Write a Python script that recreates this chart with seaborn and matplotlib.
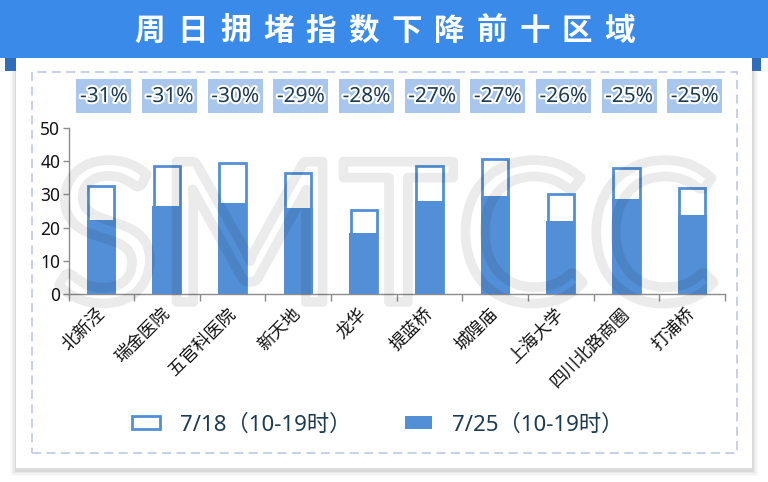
import numpy as np
import pandas as pd
import matplotlib
matplotlib.use("Agg")
import matplotlib.pyplot as plt
import seaborn as sns
from matplotlib.patches import Rectangle, Patch
from matplotlib.transforms import blended_transform_factory
from matplotlib.font_manager import FontProperties
import matplotlib.patheffects as pe

# ---------------- data ----------------
regions = ["北新泾", "瑞金医院", "五官科医院", "新天地", "龙华",
           "提蓝桥", "城隍庙", "上海大学", "四川北路商圈", "打浦桥"]
jul18 = [32.4, 38.4, 39.3, 36.3, 25.2, 38.4, 40.5, 30.0, 38.0, 31.8]
jul25 = [22.3, 26.5, 27.4, 25.9, 18.3, 28.0, 29.5, 22.0, 28.6, 23.8]
changes = ["-31%", "-31%", "-30%", "-29%", "-28%",
           "-27%", "-27%", "-26%", "-25%", "-25%"]
series_labels = ["7/18（10-19时）", "7/25（10-19时）"]
title = "周日拥堵指数下降前十区域"
yticks = [0, 10, 20, 30, 40, 50]
watermark = "SMTCC"

# ---------------- style ----------------
BLUE = "#538fd6"
TITLE_BLUE = "#3a8be9"
TAB_BLUE = "#2f6cb9"
NAVY = "#1c3a50"
MIX = ["Noto Sans", "Noto Sans CJK SC", "DejaVu Sans"]
plt.rcParams["font.family"] = MIX

W, H = 768, 482
fig = plt.figure(figsize=(W / 100, H / 100), dpi=100)
fig.patch.set_facecolor("white")


def fx(px):
    return px / W


def fy(py):
    return 1 - py / H


# card shadow
for d, a in [(6, 0.02), (4.5, 0.03), (3, 0.04), (1.5, 0.06)]:
    fig.add_artist(Rectangle((fx(16 - d), fy(470 + d)), (736 + 2 * d) / W, (412 + 2 * d) / H,
                             transform=fig.transFigure, fc="black", alpha=a, ec="none", zorder=-6))
# card
fig.add_artist(Rectangle((fx(16), fy(468)), 736 / W, 410 / H, transform=fig.transFigure,
                         fc="white", ec="none", zorder=-5))
# ribbon tabs
fig.add_artist(Rectangle((fx(5), fy(71)), 11 / W, 13 / H, transform=fig.transFigure,
                         fc=TAB_BLUE, ec="none", zorder=-4))
fig.add_artist(Rectangle((fx(752), fy(71)), 9 / W, 13 / H, transform=fig.transFigure,
                         fc=TAB_BLUE, ec="none", zorder=-4))
# title bar
fig.add_artist(Rectangle((0, fy(58)), 1, 58 / H, transform=fig.transFigure,
                         fc=TITLE_BLUE, ec="none", zorder=-3))
for i, ch in enumerate(title):
    fig.text(fx(150 + i * 42.7), fy(31), ch, ha="center", va="center", fontsize=22,
             color="white", fontweight="bold", family="Noto Sans CJK SC")
# dashed frame
fig.add_artist(Rectangle((fx(32), fy(453)), 705 / W, 381 / H, transform=fig.transFigure,
                         fill=False, ec="#c3cbed", lw=1.3, ls=(0, (5, 3)), zorder=-2))

# ---------------- axes ----------------
ax = fig.add_axes([fx(68.5), fy(294.3), (725 - 68.5) / W, (294.3 - 127.7) / H])
ax.set_facecolor("none")

df = pd.DataFrame({"region": regions, "jul18": jul18, "jul25": jul25})
sns.barplot(data=df, x="region", y="jul18", color="white", edgecolor=BLUE, linewidth=2.0,
            width=0.40, saturation=1, errorbar=None, ax=ax)
sns.barplot(data=df, x="region", y="jul25", color=BLUE, edgecolor="none", linewidth=0,
            width=0.442, saturation=1, errorbar=None, ax=ax)

ax.set_xlim(-0.5, len(regions) - 0.5)
ax.set_ylim(0, 50)
ax.set_yticks(yticks)
ax.set_xlabel("")
ax.set_ylabel("")
for s in ["top", "right"]:
    ax.spines[s].set_visible(False)
for s in ["left", "bottom"]:
    ax.spines[s].set_color("#8c8c8c")
    ax.spines[s].set_linewidth(1.0)

ax.set_xticks(range(len(regions)))
ax.set_xticklabels(regions, rotation=45, ha="right", va="center", rotation_mode="anchor",
                   family="Noto Sans CJK SC", fontsize=12.5, color="#111111")
ax.set_xticks(np.arange(-0.5, len(regions), 1), minor=True)
ax.tick_params(axis="x", which="major", length=0, pad=12)
ax.tick_params(axis="x", which="minor", length=5, color="#8c8c8c", width=1)
ax.tick_params(axis="y", length=4, color="#8c8c8c", width=1, labelsize=12.5,
               labelcolor="#111111", pad=2)

# percentage labels
trans = blended_transform_factory(ax.transData, fig.transFigure)
for i, lab in enumerate(changes):
    fig.add_artist(Rectangle((i - 0.38, fy(113)), 0.838, 34 / H, transform=trans,
                             fc="#a9c6ec", ec="none", zorder=1))
    fig.text(i + 0.04, fy(96.5), lab, transform=trans, ha="center", va="center",
             fontsize=15, color=NAVY, family="Noto Sans", zorder=2,
             path_effects=[pe.withStroke(linewidth=3, foreground="white")])

# watermark
fig.text(fx(385), fy(302), watermark, ha="center", va="baseline", fontsize=141,
         family="Lato", color=(1, 1, 1, 0), zorder=5,
         path_effects=[pe.withStroke(linewidth=7, foreground=(0, 0, 0, 0.08))])

# legend
handles = [Patch(facecolor="white", edgecolor=BLUE, linewidth=2.0),
           Patch(facecolor=BLUE, edgecolor=BLUE, linewidth=0)]
leg = fig.legend(handles=handles, labels=series_labels, loc="center",
                 bbox_to_anchor=(fx(378), fy(425)), ncol=2, frameon=False,
                 prop=FontProperties(family=MIX, size=16), handlelength=1.25,
                 handleheight=0.5, handletextpad=0.9, columnspacing=2.4)
for t in leg.get_texts():
    t.set_color(NAVY)

fig.savefig("out.png", dpi=100)
